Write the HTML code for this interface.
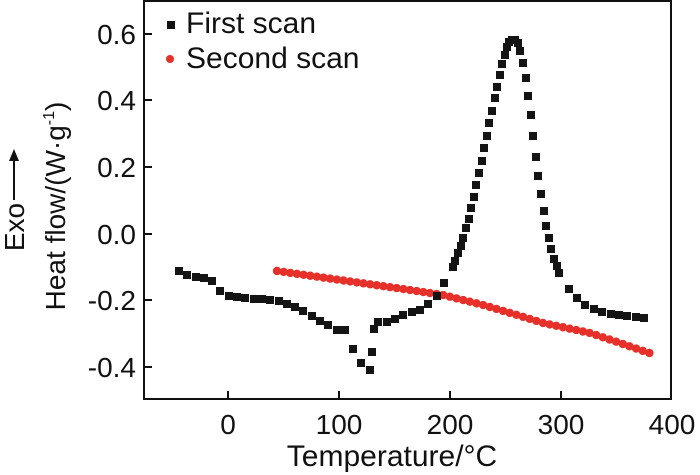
<!DOCTYPE html>
<html><head><meta charset="utf-8"><style>
html,body{margin:0;padding:0;background:#fff}
svg{display:block}
text{font-family:"Liberation Sans",Arial,sans-serif;fill:#111}
</style></head><body>
<svg id="s" width="700" height="475" viewBox="0 0 700 475" xmlns="http://www.w3.org/2000/svg">
<rect x="144" y="1" width="527" height="398" fill="none" stroke="#111" stroke-width="2"/>
<g stroke="#111" stroke-width="2">
<line x1="228" y1="399" x2="228" y2="391"/><line x1="339" y1="399" x2="339" y2="391"/>
<line x1="450" y1="399" x2="450" y2="391"/><line x1="561" y1="399" x2="561" y2="391"/>
<line x1="144" y1="34" x2="152" y2="34"/><line x1="144" y1="100" x2="152" y2="100"/>
<line x1="144" y1="167" x2="152" y2="167"/><line x1="144" y1="234" x2="152" y2="234"/>
<line x1="144" y1="300" x2="152" y2="300"/><line x1="144" y1="367" x2="152" y2="367"/>
</g>
<g font-size="28" text-anchor="end">
<text x="136" y="44">0.6</text><text x="136" y="110">0.4</text><text x="136" y="177">0.2</text>
<text x="136" y="244">0.0</text><text x="136" y="310">-0.2</text><text x="136" y="377">-0.4</text>
</g>
<g font-size="28" text-anchor="middle">
<text x="228" y="434">0</text><text x="339" y="434">100</text><text x="450" y="434">200</text>
<text x="561" y="434">300</text><text x="672" y="434">400</text>
</g>
<text x="392" y="466" font-size="30" text-anchor="middle">Temperature/°C</text>
<text font-size="28" text-anchor="middle" transform="translate(65,206) rotate(-90)">Heat flow/(W·g<tspan font-size="16" dy="-11">-1</tspan><tspan dy="11">)</tspan></text>
<text font-size="28" text-anchor="middle" transform="translate(24,227) rotate(-90)">Exo</text>
<line x1="14" y1="200" x2="14" y2="158" stroke="#111" stroke-width="2"/>
<polygon points="14,149 9,161 19,161" fill="#111"/>
<rect x="167" y="21" width="8" height="8" fill="#111"/>
<text x="186" y="33" font-size="30">First scan</text>
<circle cx="170" cy="59" r="4" fill="#e8302a"/>
<text x="186" y="68" font-size="30">Second scan</text>
<g id="red" fill="#e8302a"></g>
<g id="blk" fill="#141414"></g>
</svg>
<script>
var ns="http://www.w3.org/2000/svg";
var blk=[[179,271],[187,275],[196,277],[204,278],[212,281],[220,291],[229,296],[237,297],[245,298],[254,299],[262,299],[270,300],[279,301],[287,304],[295,307],[303,311],[312,316],[320,321],[328,325],[337,330],[345,330],[353,349],[361,363],[370,370],[372,352],[374,329],[378,322],[387,322],[395,319],[403,315],[412,312],[420,310],[428,304],[437,296],[444,283],[453,267],[455,261],[458,253],[461,246],[463,238],[466,228],[469,219],[471,208],[474,197],[476,185],[479,173],[482,161],[484,148],[487,136],[489,123],[492,111],[495,98],[497,87],[500,75],[502,64],[505,55],[507,47],[509,42],[512,40],[515,40],[518,43],[520,51],[523,63],[526,78],[528,96],[531,115],[533,136],[536,157],[538,176],[541,194],[544,211],[546,226],[549,238],[551,249],[554,259],[557,266],[559,273],[569,289],[577,298],[585,305],[594,309],[602,312],[611,314],[619,315],[627,316],[636,317],[644,318]];
var g=document.getElementById("blk");
blk.forEach(function(p){var r=document.createElementNS(ns,"rect");r.setAttribute("x",p[0]-4);r.setAttribute("y",p[1]-4);r.setAttribute("width",8);r.setAttribute("height",8);g.appendChild(r);});
var rp=[[277,271],[403,289],[443,295],[483,305],[517,315],[543,323],[590,333],[617,342],[649,353]];
function ry(x){for(var i=0;i<rp.length-1;i++){if(x<=rp[i+1][0]){var t=(x-rp[i][0])/(rp[i+1][0]-rp[i][0]);return rp[i][1]+t*(rp[i+1][1]-rp[i][1]);}}return rp[rp.length-1][1];}
var gr=document.getElementById("red");
for(var x=277;x<=649.5;x+=6.65){var c=document.createElementNS(ns,"circle");c.setAttribute("cx",x);c.setAttribute("cy",ry(x));c.setAttribute("r",4.2);gr.appendChild(c);}
</script>
</body></html>
